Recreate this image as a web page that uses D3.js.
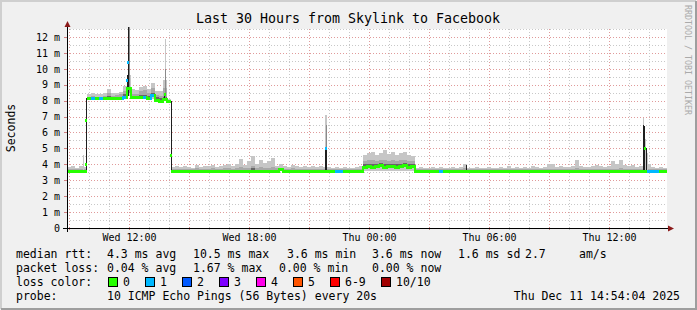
<!DOCTYPE html>
<html><head><meta charset="utf-8">
<script src="https://cdn.jsdelivr.net/npm/d3@7"></script>
<style>
html,body{margin:0;padding:0;background:#f0f0f0;}
svg text{font-family:"DejaVu Sans Mono",monospace;}
</style></head>
<body><svg id="c" width="697" height="310"></svg>
<script>
// ---------- data ----------
const title = "Last 30 Hours from Skylink to Facebook";
const startTime = new Date(2025, 11, 10, 8, 54, 4);
const endTime = new Date(2025, 11, 11, 14, 54, 4);
const bucketMinutes = 12; // one value per 12 minutes
const yTicks = [0,1,2,3,4,5,6,7,8,9,10,11,12];

// median rtt (ms) per bucket
const median = [
3.6,3.6,3.6,3.6,3.6,8.15,8.15,8.15,8.15,8.15,
8.15,8.15,8.15,8.15,8.25,8.8,8.25,8.2,8.2,8.2,
8.15,8.35,8.05,8.0,8.1,8.0,3.6,3.6,3.6,3.6,
3.6,3.6,3.6,3.6,3.6,3.6,3.6,3.6,3.6,3.6,
3.6,3.6,3.6,3.6,3.6,3.6,3.6,3.6,3.6,3.6,
3.6,3.6,3.6,3.7,3.6,3.6,3.6,3.6,3.6,3.6,
3.6,3.6,3.6,3.6,3.6,3.6,3.6,3.6,3.6,3.6,
3.6,3.6,3.6,3.6,3.85,3.9,3.85,3.9,3.95,3.85,
3.9,3.9,3.85,3.9,3.95,3.85,3.9,3.6,3.6,3.6,
3.6,3.6,3.6,3.6,3.6,3.6,3.6,3.6,3.6,3.6,
3.6,3.6,3.6,3.6,3.6,3.6,3.6,3.6,3.6,3.6,
3.6,3.6,3.6,3.6,3.6,3.6,3.6,3.6,3.6,3.6,
3.6,3.6,3.6,3.6,3.6,3.6,3.6,3.6,3.6,3.6,
3.6,3.6,3.6,3.6,3.6,3.6,3.6,3.6,3.6,3.6,
3.6,3.6,3.6,3.6,3.6,3.6,3.6,3.6,3.6,3.6];
// lost pings (of 10) per bucket
const loss = [
0,0,0,0,0,0,1,0,1,0,
0,0,0,0,1,0,0,0,0,1,
0,1,0,0,0,0,0,0,0,0,
0,0,0,0,0,0,0,0,0,0,
0,0,0,0,0,0,0,0,0,0,
0,0,0,0,0,0,0,0,0,0,
0,0,0,0,0,0,0,1,1,0,
0,0,0,0,0,0,0,0,0,0,
0,0,0,0,0,0,0,0,0,0,
0,0,0,1,0,0,0,0,0,0,
0,0,0,0,0,0,0,0,0,0,
0,0,0,0,0,0,0,0,0,0,
0,0,0,0,0,0,0,0,0,0,
0,0,0,0,0,0,0,0,0,0,
0,0,0,0,0,1,1,1,0,0];
// smoke: lowest / highest ping (ms)
const smokeLo = [
3.55,3.55,3.55,3.55,3.55,8.1,8.1,8.1,8.1,8.1,
8.1,8.1,8.1,8.1,8.15,8.3,8.15,8.1,8.1,8.1,
8.05,8.1,7.95,7.95,8.0,7.95,3.55,3.55,3.55,3.55,
3.55,3.55,3.55,3.55,3.55,3.55,3.55,3.55,3.55,3.55,
3.55,3.55,3.55,3.55,3.55,3.55,3.55,3.55,3.55,3.55,
3.55,3.55,3.55,3.55,3.55,3.55,3.55,3.55,3.55,3.55,
3.55,3.55,3.55,3.55,3.55,3.55,3.55,3.55,3.55,3.55,
3.55,3.55,3.55,3.55,3.55,3.55,3.55,3.55,3.55,3.55,
3.55,3.55,3.55,3.55,3.55,3.55,3.55,3.55,3.55,3.55,
3.55,3.55,3.55,3.55,3.55,3.55,3.55,3.55,3.55,3.55,
3.55,3.55,3.55,3.55,3.55,3.55,3.55,3.55,3.55,3.55,
3.55,3.55,3.55,3.55,3.55,3.55,3.55,3.55,3.55,3.55,
3.55,3.55,3.55,3.55,3.55,3.55,3.55,3.55,3.55,3.55,
3.55,3.55,3.55,3.55,3.55,3.55,3.55,3.55,3.55,3.55,
3.55,3.55,3.55,3.55,3.55,3.55,3.55,3.55,3.55,3.55];
const smokeHi = [
3.85,3.9,3.8,3.9,3.85,8.4,8.45,8.4,8.4,8.45,
8.75,8.45,8.5,8.55,8.9,9.3,8.7,8.65,8.85,8.9,
8.75,9.1,8.6,8.6,9.3,8.1,3.85,3.9,3.85,3.9,
3.85,3.8,3.95,3.85,3.9,3.9,3.95,3.85,3.9,3.95,
4.0,3.9,4.0,4.35,3.95,4.2,4.5,4.05,4.3,4.1,
4.2,4.4,3.9,4.0,3.9,3.85,3.95,3.9,3.85,3.9,
3.85,3.9,3.85,3.9,3.85,3.85,3.8,3.85,3.8,3.85,
3.8,3.8,3.85,3.9,4.6,4.7,4.8,4.6,4.7,4.9,
4.65,4.75,4.6,4.7,4.75,4.6,4.55,3.8,3.85,3.8,
3.8,3.85,3.8,3.85,3.8,3.8,3.85,3.8,3.85,4.05,
3.8,3.8,3.85,3.8,3.8,3.85,3.8,3.8,3.85,3.8,
3.9,3.8,3.85,3.8,3.85,3.8,3.9,3.85,3.8,3.85,
4.0,4.0,3.85,3.9,3.85,3.85,3.9,4.3,3.9,3.85,
3.85,3.9,3.95,3.9,3.85,3.9,4.2,4.0,4.3,3.95,
3.9,3.95,3.85,3.9,3.8,4.0,3.85,3.8,3.85,3.8];
// denser (darker) part of the smoke, top value
const smokeMid = [
3.7,3.7,3.7,3.7,3.7,8.25,8.3,8.25,8.25,8.3,
8.45,8.3,8.35,8.4,8.6,9.0,8.4,8.4,8.6,8.65,
8.5,8.8,8.35,8.3,8.8,8.05,3.7,3.7,3.7,3.7,
3.7,3.7,3.75,3.7,3.7,3.7,3.75,3.7,3.7,3.75,
3.75,3.7,3.8,3.85,3.75,3.8,3.9,3.8,3.85,3.8,
3.8,3.85,3.75,3.8,3.7,3.7,3.75,3.7,3.7,3.7,
3.7,3.7,3.7,3.7,3.7,3.7,3.7,3.7,3.7,3.7,
3.7,3.7,3.7,3.7,4.2,4.25,4.3,4.2,4.3,4.25,
4.2,4.3,4.2,4.3,4.25,4.2,4.2,3.7,3.7,3.7,
3.7,3.7,3.7,3.7,3.7,3.7,3.7,3.7,3.7,3.75,
3.7,3.7,3.7,3.7,3.7,3.7,3.7,3.7,3.7,3.7,
3.7,3.7,3.7,3.7,3.7,3.7,3.7,3.7,3.7,3.7,
3.7,3.7,3.7,3.7,3.7,3.7,3.7,3.75,3.7,3.7,
3.7,3.7,3.7,3.7,3.7,3.7,3.7,3.7,3.75,3.7,
3.7,3.7,3.7,3.7,3.7,3.7,3.7,3.7,3.7,3.7];
// thin single-sample spikes: hours after start, low, high, shade (0 light,1 mid,2 dark)
const spikes = [
 [0.78,3.6,4.6,0],[0.95,3.6,8.15,2],
 [3.0,8.3,9.6,2],[3.05,8.3,12.6,2],[3.1,8.5,12.6,1],[3.15,8.3,9.6,0],
 [4.9,8.0,11.9,0],[4.9,8.0,10.0,1],[4.85,8.0,8.45,2],[5.2,3.6,8.0,2],
 [12.9,3.6,7.1,0],[12.95,3.6,7.1,0],[12.95,5.0,6.5,1],[12.9,3.6,5.0,2],[12.95,3.6,5.0,2],
 [19.95,3.6,3.95,2],
 [28.8,3.6,6.9,0],[28.8,3.6,6.5,2],[28.85,3.6,6.4,2],[28.9,3.6,5.6,0],[28.95,3.6,5.0,2],[29.0,3.6,4.7,0]
];
// median readings inside the spikes: hours, value, loss
const spikeMedians = [
 [0.95,4.0,0],[0.95,6.8,0],[3.0,9.3,1],[3.05,10.45,1],[3.15,8.8,0],
 [4.9,8.4,0],[5.2,4.6,0],[12.95,5.0,1],[28.9,5.0,0]
];
const lossLabels = ["0","1","2","3","4","5","6-9","10/10"];
const lossColors = ["#26ff00","#00b8ff","#0059ff","#7e00ff","#ff00ea","#ff5500","#ff0000","#a10000"];
const rttStats = [["4.3 ms avg",107],["10.5 ms max",193],["3.6 ms min",287],["3.6 ms now",372],["1.6 ms sd",458],["2.7",525],["am/s",579]];
const lossStats = [["0.04 % avg",107],["1.67 % max",193],["0.00 % min",279],["0.00 % now",372]];
const probeText = "10 ICMP Echo Pings (56 Bytes) every 20s";
const stampText = "Thu Dec 11 14:54:04 2025";

// ---------- drawing ----------
const svg = d3.select("#c");
const L = 67, R = 667, T = 29, B = 228;
const x = d3.scaleTime().domain([startTime, endTime]).range([L, R]);
const y = d3.scaleLinear().domain([0, 12.5]).range([B, T]);
const tAt = h => new Date(startTime.getTime() + h * 3600e3);
const bucketStart = i => tAt(i * bucketMinutes / 60);
const bucketEnd = i => tAt((i + 1) * bucketMinutes / 60);

// frame
svg.append("rect").attr("x",0).attr("y",0).attr("width",697).attr("height",310).attr("fill","#f0f0f0");
svg.append("path").attr("d","M1,309V1H696").attr("stroke","#cfcfcf").attr("stroke-width",2).attr("fill","none");
svg.append("path").attr("d","M1,309H696V1").attr("stroke","#9e9e9e").attr("stroke-width",2).attr("fill","none");
svg.append("rect").attr("x",L).attr("y",T).attr("width",R-L).attr("height",B-T).attr("fill","#fff");

// grid
const g = svg.append("g");
const halfSteps = d3.range(0.5, 12.51, 0.5);
g.selectAll("line.hg").data(halfSteps).join("line")
  .attr("x1",L).attr("x2",R).attr("y1",d=>Math.round(y(d))+0.5).attr("y2",d=>Math.round(y(d))+0.5)
  .attr("stroke",d=>Number.isInteger(d)?"#e09a9a":"#c8c8c8").attr("stroke-dasharray","1,2");
const hours = d3.timeHour.every(1).range(startTime, endTime);
g.selectAll("line.vg").data(hours).join("line")
  .attr("x1",d=>Math.round(x(d))+0.5).attr("x2",d=>Math.round(x(d))+0.5).attr("y1",T).attr("y2",B)
  .attr("stroke",d=>d.getHours()%3===0?"#e09a9a":"#c8c8c8").attr("stroke-dasharray","1,2");

// smoke
const idx = d3.range(median.length);
const sm = svg.append("g").attr("shape-rendering","crispEdges");
sm.selectAll("rect.lo").data(idx).join("rect")
  .attr("x",i=>x(bucketStart(i))).attr("width",i=>x(bucketEnd(i))-x(bucketStart(i)))
  .attr("y",i=>y(smokeHi[i])).attr("height",i=>y(smokeLo[i])-y(smokeHi[i])).attr("fill","#c6c6c6");
sm.selectAll("rect.mid").data(idx).join("rect")
  .attr("x",i=>x(bucketStart(i))).attr("width",i=>x(bucketEnd(i))-x(bucketStart(i)))
  .attr("y",i=>y(smokeMid[i])).attr("height",i=>Math.max(0,y(median[i]-0.05)-y(smokeMid[i]))).attr("fill","#a8a8a8");
sm.selectAll("rect.core").data(idx.filter(i=>smokeMid[i]-median[i]>0.25)).join("rect")
  .attr("x",i=>x(bucketStart(i))).attr("width",i=>x(bucketEnd(i))-x(bucketStart(i)))
  .attr("y",i=>y(median[i]+0.15)).attr("height",i=>y(median[i]-0.12)-y(median[i]+0.15)).attr("fill","#666");
const shades = ["#c6c6c6","#8a8a8a","#1e1e1e"];
sm.selectAll("rect.sp").data(spikes).join("rect")
  .attr("x",d=>Math.round(x(tAt(d[0])))).attr("width",1)
  .attr("y",d=>y(d[2])).attr("height",d=>y(d[1])-y(d[2])).attr("fill",d=>shades[d[3]]);

// median line
const ml = svg.append("g").attr("shape-rendering","crispEdges");
ml.selectAll("rect.m").data(idx).join("rect")
  .attr("x",i=>x(bucketStart(i))).attr("width",i=>x(bucketEnd(i))-x(bucketStart(i)))
  .attr("y",i=>Math.round(y(median[i]))-1).attr("height",3)
  .attr("fill",i=>lossColors[loss[i]]);
ml.selectAll("rect.mc").data(idx.slice(1).filter(i=>Math.abs(median[i]-median[i-1])>0.01 && Math.abs(median[i]-median[i-1])<1)).join("rect")
  .attr("x",i=>x(bucketStart(i))-1).attr("width",2)
  .attr("y",i=>Math.round(y(Math.max(median[i],median[i-1])))-1)
  .attr("height",i=>Math.abs(Math.round(y(median[i]))-Math.round(y(median[i-1])))+3)
  .attr("fill",i=>lossColors[loss[i]]);
ml.selectAll("rect.sm").data(spikeMedians).join("rect")
  .attr("x",d=>Math.round(x(tAt(d[0])))-1).attr("width",2)
  .attr("y",d=>Math.round(y(d[1]))-1).attr("height",3).attr("fill",d=>lossColors[d[2]]);

// axes
const ax = svg.append("g").attr("shape-rendering","crispEdges");
ax.selectAll("line.xt").data(hours).join("line")
  .attr("x1",d=>Math.round(x(d))+0.5).attr("x2",d=>Math.round(x(d))+0.5)
  .attr("y1",B-1).attr("y2",B+2).attr("stroke",d=>d.getHours()%3===0?"#d08080":"#bbb");
ax.selectAll("line.yt").data(yTicks).join("line")
  .attr("x1",L-3).attr("x2",L+1).attr("y1",d=>Math.round(y(d))+0.5).attr("y2",d=>Math.round(y(d))+0.5)
  .attr("stroke",d=>d===0?"#000":"#d08080");
ax.append("line").attr("x1",L-4).attr("x2",R+2).attr("y1",B+0.5).attr("y2",B+0.5).attr("stroke","#000");
ax.append("line").attr("x1",L+0.5).attr("x2",L+0.5).attr("y1",B+4).attr("y2",T-2).attr("stroke","#000");
svg.append("path").attr("d",`M${R+1},${B-2.5}L${R+7},${B+0.5}L${R+1},${B+3.5}Z`).attr("fill","#8b1a1a");
svg.append("path").attr("d",`M${L-2.5},${T-2}L${L+0.5},${T-8}L${L+3.5},${T-2}Z`).attr("fill","#8b1a1a");

const yAxis = d3.axisLeft(y).tickValues(yTicks).tickSize(0).tickPadding(7)
  .tickFormat(d=>d===0?"0":d+" m");
svg.append("g").attr("transform",`translate(${L},0)`).call(yAxis)
  .call(s=>s.select(".domain").remove())
  .selectAll("text").attr("font-size","10px").attr("fill","#000").attr("font-family","DejaVu Sans Mono");
const labelHours = hours.filter(d=>d.getHours()%6===0);
const xAxis = d3.axisBottom(x).tickValues(labelHours).tickSize(0).tickPadding(6)
  .tickFormat(d3.timeFormat("%a %H:%M"));
svg.append("g").attr("transform",`translate(0,${B})`).call(xAxis)
  .call(s=>s.select(".domain").remove())
  .selectAll("text").attr("font-size","10px").attr("fill","#000").attr("font-family","DejaVu Sans Mono");

// texts
svg.append("text").attr("x",348).attr("y",23).attr("text-anchor","middle")
  .attr("font-size","13.3px").text(title);
svg.append("text").attr("transform","translate(15,128) rotate(-90)").attr("text-anchor","middle")
  .attr("font-size","11.5px").text("Seconds");
svg.append("text").attr("transform","translate(685,5) rotate(90)").attr("text-anchor","start")
  .attr("font-size","8.3px").attr("fill","#aaa").text("RRDTOOL / TOBI OETIKER");

const fs = "11.5px";
const lg = svg.append("g").attr("font-size",fs);
lg.append("text").attr("x",16).attr("y",258).text("median rtt:");
lg.selectAll("text.r").data(rttStats).join("text").attr("x",d=>d[1]).attr("y",258).text(d=>d[0]);
lg.append("text").attr("x",16).attr("y",272).text("packet loss:");
lg.selectAll("text.p").data(lossStats).join("text").attr("x",d=>d[1]).attr("y",272).text(d=>d[0]);
lg.append("text").attr("x",16).attr("y",286).text("loss color:");
const boxX = [108,145,182,219,256,293,330,381];
const lc = lg.selectAll("g.lc").data(lossLabels).join("g").attr("transform",(d,i)=>`translate(${boxX[i]},0)`);
lc.append("rect").attr("x",0.5).attr("y",277.5).attr("width",9).attr("height",9)
  .attr("fill",(d,i)=>lossColors[i]).attr("stroke","#000");
lc.append("text").attr("x",15).attr("y",286).text(d=>d);
lg.append("text").attr("x",16).attr("y",300).text("probe:");
lg.append("text").attr("x",107).attr("y",300).text(probeText);
lg.append("text").attr("x",680).attr("y",300).attr("text-anchor","end").text(stampText);
</script></body></html>
